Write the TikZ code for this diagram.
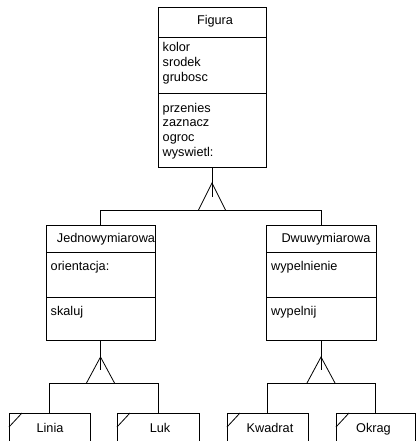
\documentclass[tikz,border=0pt]{standalone}
\usepackage{fontspec}
\setmainfont{Liberation Sans}
\newcommand\diagfont{\fontsize{12.7}{15}\selectfont}
\tikzset{
  comp/.style={draw, line width=0.8pt, anchor=north west, inner sep=0pt, outer sep=0pt},
  lbl/.style={inner sep=0pt, anchor=base west, font=\diagfont},
  ttl/.style={inner sep=0pt, anchor=base, font=\diagfont},
  conn/.style={line width=0.8pt},
}
\begin{document}
\begin{tikzpicture}[x=1pt,y=-1pt]
\path[use as bounding box, fill=white] (0,0) rectangle (416,441);
\clip (0,0) rectangle (416,441);
% Figura
\node[comp, minimum width=108pt, minimum height=30pt] (figT) at (158,7) {};
\node[comp, minimum width=108pt, minimum height=56pt] (figA) at (158,37) {};
\node[comp, minimum width=108pt, minimum height=74pt] (figO) at (158,93) {};
\node[ttl] (figName) at (215,25) {Figura};
\node[lbl] (a1) at (162.5,52) {kolor};
\node[lbl] (a2) at (162.5,67) {srodek};
\node[lbl] (a3) at (162.5,82) {grubosc};
\node[lbl] (o1) at (162.5,112) {przenies};
\node[lbl] (o2) at (162.5,126.7) {zaznacz};
\node[lbl] (o3) at (162.5,141.4) {ogroc};
\node[lbl] (o4) at (162.5,156.1) {wyswietl:};
% Jednowymiarowa
\node[comp, minimum width=109pt, minimum height=27pt] (jT) at (46,225) {};
\node[comp, minimum width=109pt, minimum height=45pt] (jA) at (46,252) {};
\node[comp, minimum width=109pt, minimum height=43pt] (jO) at (46,297) {};
\node[ttl] (jName) at (106,242) {Jednowymiarowa};
\node[lbl] (ja1) at (50.5,270) {orientacja:};
\node[lbl] (jo1) at (50.5,315) {skaluj};
% Dwuwymiarowa
\node[comp, minimum width=110pt, minimum height=27pt] (dT) at (266,225) {};
\node[comp, minimum width=110pt, minimum height=45pt] (dA) at (266,252) {};
\node[comp, minimum width=110pt, minimum height=43pt] (dO) at (266,297) {};
\node[ttl] (dName) at (326,242) {Dwuwymiarowa};
\node[lbl] (da1) at (271,270) {wypelnienie};
\node[lbl] (do1) at (271,315) {wypelnij};
% Leaves
\node[comp, minimum width=81pt, minimum height=40pt] (linia) at (9,413) {};
\node[comp, minimum width=82pt, minimum height=40pt] (luk) at (117,413) {};
\node[comp, minimum width=81pt, minimum height=40pt] (kwadrat) at (227,413) {};
\node[comp, minimum width=79pt, minimum height=40pt] (okrag) at (336,413) {};
\node[ttl] (liniaName) at (50,432) {Linia};
\node[ttl] (lukName) at (160,432) {Luk};
\node[ttl] (kwName) at (270,432) {Kwadrat};
\node[ttl] (okName) at (373.5,432) {Okrag};
\foreach \n in {linia,luk,kwadrat,okrag}
  \draw[conn] ([yshift=-14pt]\n.north west) -- ([xshift=13pt]\n.north west);
% Inheritance Figura
\coordinate (fApex) at (212,183);
\coordinate (fTail) at (212,197);
\coordinate (fBL) at (198.5,210);
\coordinate (fBR) at (225.5,210);
\draw[conn] (figO.south) -- (fTail);
\draw[conn] (fBL) -- (fApex) -- (fBR);
\draw[conn] (jT.north) -- (jT.north |- fBL) -- (dT.north |- fBL) -- (dT.north);
% Inheritance Jednowymiarowa
\coordinate (jApex) at (jO.south |- 0,357);
\coordinate (jTail) at (jO.south |- 0,370);
\coordinate (jBL) at ([xshift=-14pt]jO.south |- 0,383);
\coordinate (jBR) at ([xshift=14pt]jO.south |- 0,383);
\draw[conn] (jO.south) -- (jTail);
\draw[conn] (jBL) -- (jApex) -- (jBR);
\draw[conn] (linia.north) -- (linia.north |- jBL) -- (luk.north |- jBL) -- (luk.north);
% Inheritance Dwuwymiarowa
\coordinate (dApex) at (dO.south |- 0,357);
\coordinate (dTail) at (dO.south |- 0,370);
\coordinate (dBL) at ([xshift=-14pt]dO.south |- 0,383);
\coordinate (dBR) at ([xshift=14pt]dO.south |- 0,383);
\draw[conn] (dO.south) -- (dTail);
\draw[conn] (dBL) -- (dApex) -- (dBR);
\draw[conn] (kwadrat.north) -- (kwadrat.north |- dBL) -- (okrag.north |- dBL) -- (okrag.north);
\end{tikzpicture}
\end{document}
